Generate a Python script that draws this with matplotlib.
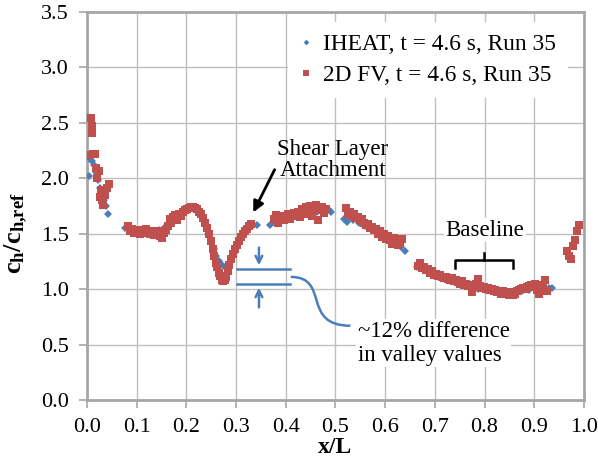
import numpy as np
import matplotlib
matplotlib.use("Agg")
import matplotlib.pyplot as plt
from matplotlib.path import Path
from matplotlib.patches import PathPatch

plt.rcParams['font.family'] = 'serif'
plt.rcParams['font.serif'] = ['Liberation Serif', 'Nimbus Roman', 'DejaVu Serif']
plt.rcParams['mathtext.fontset'] = 'custom'
plt.rcParams['mathtext.rm'] = 'Liberation Serif'
plt.rcParams['mathtext.bf'] = 'Liberation Serif:bold'

# Data: 2D FV (red squares)
fv_x = [0.004, 0.008, 0.010, 0.011, 0.013, 0.016, 0.019, 0.021, 0.024, 0.026, 0.028, 0.030, 0.032, 0.036, 0.040, 0.044,
        0.082, 0.086, 0.090, 0.094, 0.098, 0.102, 0.106, 0.110, 0.114, 0.118, 0.122, 0.126, 0.130, 0.134, 0.138, 0.142,
        0.146, 0.150, 0.154, 0.158, 0.162, 0.166, 0.170, 0.174, 0.178, 0.182, 0.186, 0.190, 0.194, 0.198, 0.202, 0.206,
        0.210, 0.214, 0.218, 0.222, 0.226, 0.230, 0.234, 0.238, 0.242, 0.246, 0.250, 0.253, 0.256, 0.259, 0.262, 0.265,
        0.268, 0.271, 0.274, 0.277, 0.280, 0.283, 0.286, 0.290, 0.294, 0.298, 0.302, 0.306, 0.310, 0.314, 0.318, 0.322,
        0.326, 0.330,
        0.376, 0.380, 0.384, 0.388, 0.392, 0.396, 0.400, 0.404, 0.408, 0.412, 0.416, 0.420, 0.424, 0.428, 0.432, 0.436,
        0.440, 0.444, 0.448, 0.452, 0.456, 0.460, 0.464, 0.468, 0.472, 0.476, 0.480,
        0.522, 0.526, 0.530, 0.534, 0.538, 0.542, 0.546, 0.550, 0.554, 0.558, 0.562, 0.566, 0.570, 0.574, 0.578, 0.582,
        0.586, 0.590, 0.594, 0.598, 0.602, 0.606, 0.610, 0.614, 0.618, 0.622, 0.626, 0.630, 0.634,
        0.666, 0.670, 0.674, 0.678, 0.682, 0.686, 0.690, 0.694, 0.698, 0.702, 0.706, 0.710, 0.714, 0.718, 0.722, 0.726,
        0.730, 0.734, 0.738, 0.742, 0.746, 0.750, 0.754, 0.758, 0.762, 0.766, 0.770, 0.774, 0.778, 0.782, 0.786, 0.790,
        0.794, 0.798, 0.802, 0.806, 0.810, 0.814, 0.818, 0.822, 0.826, 0.830, 0.834, 0.838, 0.842, 0.846, 0.850, 0.854,
        0.858, 0.862, 0.866, 0.870, 0.874, 0.878, 0.882, 0.886, 0.890, 0.894, 0.898, 0.902, 0.906, 0.910, 0.914, 0.918,
        0.922, 0.925,
        0.966, 0.970, 0.974, 0.978, 0.982, 0.986, 0.990]
fv_y = [2.21, 2.54, 2.47, 2.41, 2.22, 2.22, 2.09, 2.00, 2.07, 1.83, 1.89, 1.80, 1.76, 1.85, 1.91, 1.95,
        1.57, 1.52, 1.54, 1.51, 1.53, 1.52, 1.50, 1.53, 1.52, 1.54, 1.51, 1.50, 1.52, 1.49, 1.50, 1.52,
        1.48, 1.46, 1.51, 1.53, 1.57, 1.63, 1.60, 1.65, 1.67, 1.62, 1.68, 1.66, 1.70, 1.71, 1.72, 1.73,
        1.74, 1.74, 1.73, 1.72, 1.70, 1.68, 1.64, 1.60, 1.55, 1.50, 1.43, 1.36, 1.30, 1.24, 1.20, 1.15,
        1.12, 1.08, 1.07, 1.08, 1.11, 1.16, 1.22, 1.27, 1.32, 1.36, 1.40, 1.43, 1.47, 1.50, 1.52, 1.54,
        1.57, 1.59,
        1.63, 1.67, 1.60, 1.64, 1.66, 1.62, 1.65, 1.68, 1.63, 1.66, 1.69, 1.67, 1.70, 1.65, 1.72, 1.68,
        1.74, 1.70, 1.75, 1.66, 1.72, 1.76, 1.62, 1.71, 1.74, 1.69, 1.72,
        1.73, 1.68, 1.70, 1.66, 1.68, 1.64, 1.65, 1.62, 1.63, 1.60, 1.58, 1.59, 1.55, 1.56, 1.53, 1.54,
        1.50, 1.52, 1.47, 1.50, 1.45, 1.48, 1.44, 1.41, 1.46, 1.43, 1.40, 1.42, 1.45,
        1.21, 1.24, 1.19, 1.20, 1.17, 1.18, 1.15, 1.16, 1.13, 1.14, 1.12, 1.13, 1.11, 1.10, 1.11, 1.09,
        1.08, 1.10, 1.07, 1.08, 1.06, 1.05, 1.07, 1.04, 1.05, 1.03, 1.04, 0.97, 1.02, 1.05, 1.09, 1.03,
        1.01, 1.02, 1.00, 1.01, 0.99, 1.00, 0.98, 0.99, 0.97, 0.98, 0.96, 0.98, 0.97, 0.96, 0.95, 0.97,
        0.95, 0.96, 0.98, 0.99, 1.00, 1.01, 1.00, 1.02, 1.03, 1.04, 1.02, 1.05, 0.99, 0.96, 1.01, 1.04,
        1.08, 0.98,
        1.34, 1.30, 1.27, 1.39, 1.44, 1.52, 1.58]

# Data: IHEAT (blue diamonds)
ih_x = [0.004, 0.006, 0.010, 0.014, 0.018, 0.022, 0.026, 0.030, 0.034, 0.038, 0.042,
        0.077, 0.085, 0.095, 0.105, 0.115, 0.125, 0.135, 0.145, 0.155, 0.165, 0.175, 0.185, 0.195, 0.205, 0.215,
        0.225, 0.232, 0.238, 0.244, 0.250, 0.255, 0.260, 0.266, 0.272, 0.278, 0.284, 0.290, 0.296, 0.302, 0.308,
        0.314, 0.322, 0.332, 0.342,
        0.368, 0.378, 0.390, 0.402, 0.414, 0.426, 0.438, 0.450, 0.462, 0.474, 0.486, 0.490,
        0.518, 0.523, 0.535, 0.547, 0.559, 0.571, 0.583, 0.595, 0.607, 0.619, 0.631, 0.640,
        0.665, 0.680, 0.695, 0.710, 0.725, 0.740, 0.755, 0.770, 0.787, 0.800, 0.815, 0.830, 0.845, 0.860, 0.875,
        0.890, 0.905, 0.920, 0.930, 0.936]
ih_y = [2.02, 2.17, 2.16, 2.12, 2.06, 1.98, 1.91, 1.86, 1.80, 1.75, 1.68,
        1.55, 1.53, 1.52, 1.51, 1.51, 1.50, 1.52, 1.53, 1.55, 1.58, 1.62, 1.65, 1.69, 1.71, 1.72,
        1.70, 1.65, 1.58, 1.50, 1.42, 1.36, 1.30, 1.25, 1.22, 1.20, 1.22, 1.27, 1.33, 1.39, 1.45,
        1.51, 1.55, 1.57, 1.58,
        1.58, 1.60, 1.62, 1.63, 1.65, 1.67, 1.68, 1.69, 1.70, 1.71, 1.71, 1.70,
        1.63, 1.61, 1.62, 1.60, 1.57, 1.54, 1.51, 1.48, 1.45, 1.42, 1.38, 1.34,
        1.20, 1.17, 1.14, 1.11, 1.08, 1.06, 1.04, 1.02, 1.00, 0.99, 0.98, 0.97, 0.97, 0.97, 0.98,
        0.99, 1.00, 1.00, 1.01, 1.01]

x_ticks = [0.0, 0.1, 0.2, 0.3, 0.4, 0.5, 0.6, 0.7, 0.8, 0.9, 1.0]
y_ticks = [0.0, 0.5, 1.0, 1.5, 2.0, 2.5, 3.0, 3.5]

red = '#C0504D'
blue = '#4A7EBB'
grey = '#A6A6A6'

fig = plt.figure(figsize=(5.98, 4.67), dpi=100)
ax = fig.add_axes([0.1455, 0.1435, 0.831, 0.8308])

ax.plot(ih_x, ih_y, 'D', color=blue, ms=3.6, mew=0, label='IHEAT, t = 4.6 s, Run 35', zorder=3)
ax.plot(fv_x, fv_y, 's', color=red, ms=5.2, mew=0, label='2D FV, t = 4.6 s, Run 35', zorder=4)

ax.set_xlim(0, 1.0)
ax.set_ylim(0, 3.5)
ax.set_xticks(x_ticks)
ax.set_yticks(y_ticks)
ax.set_xticklabels(['%.1f' % v for v in x_ticks])
ax.set_yticklabels(['%.1f' % v for v in y_ticks])
ax.tick_params(labelsize=16, length=6, width=1.2, color=grey, pad=7)
ax.grid(True, color='#BFBFBF', lw=1)
ax.set_axisbelow(True)
for s in ax.spines.values():
    s.set_color(grey)
    s.set_linewidth(2)

ax.set_xlabel('x/L', fontsize=17, fontweight='bold', labelpad=0)
ax.set_ylabel(r'$\mathbf{c_h/c_{h{,}ref}}$', fontsize=19, labelpad=2)
ax.yaxis.set_label_coords(-0.115, 0.43)

leg = ax.legend(loc='upper left', bbox_to_anchor=(0.405, 0.975), fontsize=16.8, frameon=True,
                fancybox=False, edgecolor='none', framealpha=1, handlelength=0.5, handletextpad=0.5,
                borderaxespad=0, borderpad=0.5, labelspacing=0.42, markerscale=0.8)

# Shear layer annotation
ax.text(0.495, 2.165, 'Shear Layer\nAttachment', fontsize=16.5, ha='center', va='center',
        linespacing=1.05)
ax.annotate('', xy=(0.332, 1.67), xytext=(0.380, 2.10),
            arrowprops=dict(arrowstyle='-|>', color='black', lw=2, mutation_scale=16))

# Baseline bracket
ax.text(0.801, 1.533, 'Baseline', fontsize=16.5, ha='center', va='center',
        bbox=dict(facecolor='white', edgecolor='none', pad=1))
ax.plot([0.740, 0.740, 0.857, 0.857], [1.19, 1.263, 1.263, 1.19], color='black', lw=1.8)
ax.plot([0.799, 0.799], [1.263, 1.326], color='black', lw=1.8)

# Valley difference annotation
ax.plot([0.302, 0.408], [1.182, 1.182], color=blue, lw=1.8)
ax.plot([0.302, 0.408], [1.046, 1.046], color=blue, lw=1.8)
ax.annotate('', xy=(0.346, 1.19), xytext=(0.346, 1.40),
            arrowprops=dict(arrowstyle='->', color=blue, lw=1.8, mutation_scale=12))
ax.annotate('', xy=(0.346, 1.038), xytext=(0.346, 0.81),
            arrowprops=dict(arrowstyle='->', color=blue, lw=1.8, mutation_scale=12))
verts = [(0.410, 1.11), (0.49, 1.11), (0.43, 0.67), (0.530, 0.67)]
curve = Path(verts, [Path.MOVETO, Path.CURVE4, Path.CURVE4, Path.CURVE4])
ax.add_patch(PathPatch(curve, facecolor='none', edgecolor=blue, lw=1.8))
ax.text(0.545, 0.51, '~12% difference\nin valley values', fontsize=16.5, ha='left', va='center',
        linespacing=1.2, bbox=dict(facecolor='white', edgecolor='none', pad=1))

fig.savefig('out.png', dpi=100)
